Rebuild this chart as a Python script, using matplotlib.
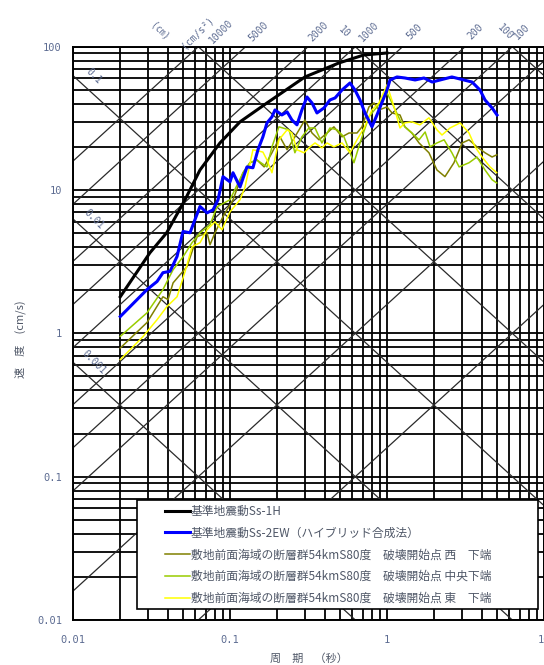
import numpy as np
import matplotlib
matplotlib.use("Agg")
import matplotlib.pyplot as plt
import matplotlib.transforms as mtransforms
from matplotlib.patches import Rectangle
from matplotlib.ticker import FixedLocator, FixedFormatter

plt.rcParams["font.family"] = ["Noto Sans CJK JP", "DejaVu Sans"]

# 周期 (s) / 擬似速度応答 (cm/s)
ss1h_period = [0.02, 0.0309, 0.0395, 0.0517, 0.0644, 0.0863, 0.1158, 0.172, 0.300, 0.494, 0.71, 1.0]
ss1h_vel = [1.80, 3.65, 5.03, 8.55, 13.8, 21.3, 29.9, 40.5, 61.5, 77.0, 87.5, 90.4]

ss2ew_period = [0.02, 0.0296, 0.0343, 0.0374, 0.0415, 0.046, 0.0502, 0.0556, 0.0644, 0.0714,
                0.078, 0.0839, 0.0902, 0.1, 0.1045, 0.1158, 0.1283, 0.140, 0.1507, 0.162,
                0.172, 0.185, 0.1935, 0.214, 0.231, 0.248, 0.267, 0.287, 0.309, 0.333,
                0.358, 0.397, 0.433, 0.467, 0.517, 0.581, 0.625, 0.673, 0.724, 0.802,
                0.863, 1.0, 1.045, 1.158, 1.30, 1.51, 1.72, 1.94, 2.18, 2.59,
                2.92, 3.48, 3.91, 4.21, 4.67, 5.02]
ss2ew_vel = [1.31, 2.02, 2.30, 2.65, 2.71, 3.44, 5.14, 5.03, 7.68, 6.93,
             7.28, 8.55, 12.4, 11.4, 13.2, 10.5, 14.5, 14.3, 19.1, 23.5,
             29.4, 32.4, 36.2, 33.4, 35.1, 30.8, 28.5, 36.2, 44.6, 40.5,
             34.5, 37.4, 42.5, 43.9, 49.9, 55.8, 49.9, 42.5, 34.5, 27.6,
             33.4, 49.9, 58.6, 61.5, 60.5, 58.6, 60.5, 56.7, 58.6, 61.5,
             59.5, 56.7, 49.9, 42.5, 37.4, 33.4]

west_period = [0.02, 0.0296, 0.0374, 0.0403, 0.0434, 0.0532, 0.0617, 0.0714, 0.0746, 0.0802,
               0.0902, 0.1045, 0.121, 0.134, 0.1486, 0.165, 0.185, 0.208, 0.231, 0.259,
               0.300, 0.333, 0.369, 0.415, 0.459, 0.517, 0.573, 0.644, 0.693, 0.767,
               0.826, 0.889, 1.0, 1.076, 1.21, 1.30, 1.44, 1.60, 1.85, 2.08,
               2.34, 2.67, 3.01, 3.33, 3.74, 4.21, 4.67, 5.0]
west_vel = [0.79, 1.19, 1.80, 1.72, 2.25, 2.92, 4.72, 5.03, 4.15, 5.03,
            6.51, 8.55, 13.2, 15.5, 16.2, 14.5, 18.2, 23.5, 19.1, 23.5,
            30.8, 25.0, 22.4, 25.0, 27.6, 23.5, 25.0, 25.0, 27.6, 38.0,
            40.5, 36.2, 38.0, 34.5, 33.4, 27.6, 25.0, 21.3, 18.2, 13.8,
            12.4, 15.5, 21.3, 22.4, 20.0, 18.2, 17.0, 17.6]

center_period = [0.02, 0.0296, 0.0374, 0.0434, 0.0502, 0.0573, 0.0644, 0.0746, 0.0826, 0.1,
                 0.121, 0.134, 0.1486, 0.172, 0.185, 0.205, 0.238, 0.259, 0.287, 0.318,
                 0.348, 0.385, 0.433, 0.481, 0.532, 0.616, 0.673, 0.767, 0.863, 1.0,
                 1.076, 1.21, 1.30, 1.44, 1.60, 1.75, 1.88, 2.08, 2.31, 2.59,
                 2.88, 3.33, 3.74, 4.21, 4.67, 5.0]
center_vel = [0.953, 1.39, 2.02, 2.78, 3.42, 4.29, 5.03, 5.72, 7.64, 8.55,
              13.2, 15.5, 16.2, 14.5, 20.0, 27.6, 26.3, 18.2, 23.5, 27.1,
              27.1, 21.3, 27.1, 26.3, 23.5, 15.5, 21.3, 32.4, 38.0, 47.6,
              40.5, 30.8, 27.6, 25.0, 22.4, 25.4, 20.0, 21.3, 22.4, 18.2,
              14.5, 15.5, 17.0, 13.8, 11.8, 11.2]

east_period = [0.02, 0.0279, 0.0343, 0.0397, 0.046, 0.0517, 0.0573, 0.0644, 0.0714, 0.0802,
               0.0889, 0.1, 0.1158, 0.1247, 0.140, 0.162, 0.172, 0.185, 0.205, 0.231,
               0.248, 0.267, 0.296, 0.323, 0.348, 0.385, 0.415, 0.459, 0.517, 0.581,
               0.644, 0.714, 0.802, 0.889, 1.0, 1.109, 1.21, 1.30, 1.44, 1.62,
               1.85, 2.08, 2.24, 2.52, 2.92, 3.33, 3.64, 4.03, 4.53, 5.0]
east_vel = [0.656, 0.948, 1.245, 1.54, 1.80, 2.69, 4.02, 4.29, 5.28, 6.0,
            5.28, 7.05, 8.55, 10.5, 19.1, 18.4, 16.2, 13.2, 22.4, 26.3,
            25.0, 19.1, 18.2, 20.0, 21.3, 19.7, 21.3, 20.0, 21.3, 18.2,
            22.4, 27.1, 36.2, 40.5, 54.1, 38.0, 27.1, 29.4, 29.9, 28.5,
            31.9, 26.3, 24.2, 27.1, 29.4, 25.0, 20.0, 17.0, 14.5, 13.2]

series_labels = [
    "基準地震動Ss-1H",
    "基準地震動Ss-2EW（ハイブリッド合成法）",
    "敷地前面海域の断層群54kmS80度　破壊開始点 西　下端",
    "敷地前面海域の断層群54kmS80度　破壊開始点 中央下端",
    "敷地前面海域の断層群54kmS80度　破壊開始点 東　下端",
]

# 三軸図の斜線（加速度 cm/s^2, 変位 cm）
acc_lines = [1, 10, 50, 100, 200, 500, 1000, 2000, 5000, 10000]
disp_lines = [0.001, 0.01, 0.1, 1, 10, 100]

x_ticks = [0.01, 0.1, 1, 10]
x_ticklabels = ["0.01", "0.1", "1", "10"]
y_ticks = [0.01, 0.1, 1, 10, 100]
y_ticklabels = ["0.01", "0.1", "1", "10", "100"]

# 斜線の目盛ラベル（周期位置, 文字, 回転）
top_labels = [
    (0.0358, "(㎝)", -45), (0.0617, "(cm/s²)", 45), (0.0876, "10000", 45),
    (0.153, "5000", 45), (0.364, "2000", 45), (0.532, "10", -45),
    (0.767, "1000", 45), (1.486, "500", 45), (3.64, "200", 45),
    (5.65, "100", -45), (7.24, "100", 45),
]
left_labels = [(0.1, "0.1"), (0.01, "0.01"), (0.001, "0.001")]

label_color = "#5d6c92"
text_color = "#505868"

fig = plt.figure(figsize=(5.44, 6.65), dpi=100)
ax = fig.add_axes([73 / 544, 45 / 665, 471 / 544, 573.3 / 665])
ax.set_xscale("log")
ax.set_yscale("log")
ax.set_xlim(0.01, 10)
ax.set_ylim(0.01, 100)

# 格子（主・補助とも同じ太線）
minor_x = [m * 10.0 ** e for e in range(-2, 1) for m in range(2, 10)]
minor_y = [m * 10.0 ** e for e in range(-2, 2) for m in range(2, 10)]
ax.xaxis.set_major_locator(FixedLocator(x_ticks))
ax.xaxis.set_major_formatter(FixedFormatter(x_ticklabels))
ax.yaxis.set_major_locator(FixedLocator(y_ticks))
ax.yaxis.set_major_formatter(FixedFormatter(y_ticklabels))
ax.xaxis.set_minor_locator(FixedLocator(minor_x))
ax.yaxis.set_minor_locator(FixedLocator(minor_y))
ax.xaxis.set_minor_formatter(FixedFormatter([""] * len(minor_x)))
ax.yaxis.set_minor_formatter(FixedFormatter([""] * len(minor_y)))
ax.grid(which="both", color="black", linewidth=1.3, zorder=1)
ax.set_axisbelow(True)
ax.tick_params(which="both", length=0)
ax.tick_params(axis="x", pad=11)
ax.tick_params(axis="y", pad=8)
for lab in ax.get_xticklabels() + ax.get_yticklabels():
    lab.set_family("DejaVu Sans Mono")
    lab.set_fontsize(7.5)
    lab.set_color(label_color)
for sp in ax.spines.values():
    sp.set_linewidth(1.4)

T = np.logspace(-2, 1, 400)
for a in acc_lines:
    ax.plot(T, a * T / (2 * np.pi), color="#2a2a2a", linewidth=0.9, zorder=2)
for d in disp_lines:
    ax.plot(T, 2 * np.pi * d / T, color="#2a2a2a", linewidth=0.9, zorder=2)

trans_top = mtransforms.blended_transform_factory(ax.transData, ax.transAxes)
for t, s, rot in top_labels:
    ax.text(t, 1.026, s, transform=trans_top, rotation=rot, ha="center", va="center",
            fontsize=7, color=label_color, family=["DejaVu Sans Mono", "Noto Sans CJK JP"])
for d, s in left_labels:
    t0 = 0.0135
    ax.text(t0, 2 * np.pi * d / t0 * 1.35, s, rotation=-45, ha="center", va="center",
            fontsize=7, color=label_color, family="DejaVu Sans Mono")

ax.plot(ss1h_period, ss1h_vel, color="black", linewidth=2.2, zorder=4, label=series_labels[0])
ax.plot(ss2ew_period, ss2ew_vel, color="#0000ff", linewidth=2.2, zorder=4, label=series_labels[1])
ax.plot(west_period, west_vel, color="#808000", linewidth=1.1, zorder=3, label=series_labels[2])
ax.plot(center_period, center_vel, color="#99cc00", linewidth=1.1, zorder=3, label=series_labels[3])
ax.plot(east_period, east_vel, color="#ffff00", linewidth=1.1, zorder=3, label=series_labels[4])

# 凡例枠
ax.add_patch(Rectangle((0.136, 0.019), 0.851, 0.19, transform=ax.transAxes,
                       facecolor="white", edgecolor="black", linewidth=1.2, zorder=5))
leg = ax.legend(loc="upper left", bbox_to_anchor=(0.195, 0.201), frameon=False,
                prop={"size": 8.5}, handlelength=2.1, handletextpad=0.1, labelspacing=0.74,
                borderpad=0.0, borderaxespad=0.0, labelcolor=text_color)
leg.set_zorder(6)

ax.set_xlabel("周　期　（秒）", fontsize=8, color=text_color, labelpad=6)
ax.set_ylabel("速　度　(cm/s)", fontsize=8, color=text_color)
ax.yaxis.set_label_coords(-0.1, 0.49)

fig.savefig("out.png", dpi=100)
